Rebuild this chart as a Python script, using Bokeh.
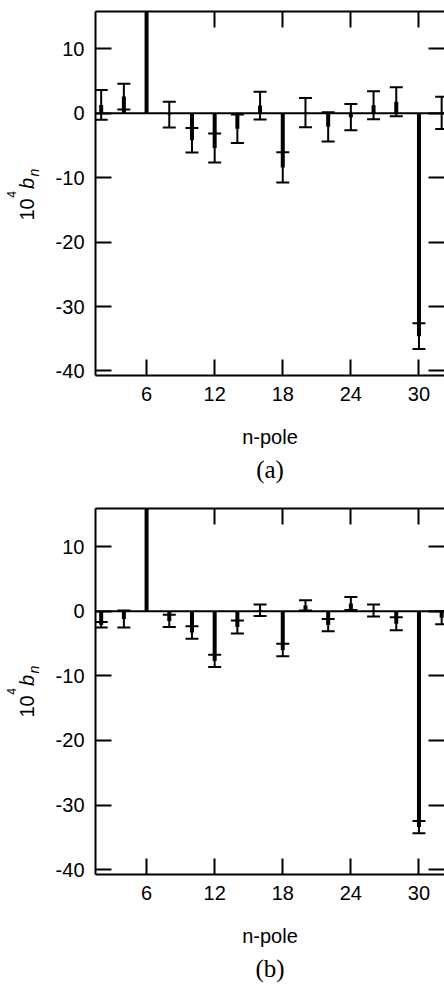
import math
from bokeh.plotting import figure
from bokeh.models import (ColumnDataSource, Whisker, TeeHead, LinearAxis, FixedTicker,
                          Title, Label, Span, Range1d)
from bokeh.layouts import column, row
from bokeh.embed import file_html
from bokeh.resources import INLINE

# ---------------- data ----------------
n_pole = [2, 4, 6, 8, 10, 12, 14, 16, 18, 20, 22, 24, 26, 28, 30, 32]

# panel (a)
b_a   = [1.3, 2.6, 30.0, -0.2, -4.2, -5.4, -2.4, 1.2, -8.4, 0.1, -2.1, -0.6, 1.25, 1.8, -34.6, 0.05]
err_a = [2.3, 2.0, 2.0, 2.0, 1.9, 2.25, 2.2, 2.15, 2.35, 2.27, 2.27, 2.05, 2.17, 2.25, 2.0, 2.5]

# panel (b)
b_b   = [-2.1, -1.2, 30.0, -1.5, -3.3, -7.7, -2.45, 0.15, -6.0, 0.9, -2.15, 1.2, 0.1, -1.95, -33.4, -1.0]
err_b = [0.42, 1.3, 1.0, 0.95, 0.96, 0.95, 1.0, 0.88, 0.95, 0.8, 0.96, 1.0, 0.93, 1.0, 0.95, 1.0]

x_ticks = [6, 12, 18, 24, 30]
y_ticks = [-40, -30, -20, -10, 0, 10]
y_tick_labels = ["-40", "-30", "-20", "-10", "0", "10"]
x_label = "n-pole"
captions = ["(a)", "(b)"]

SANS = "Liberation Sans"
SERIF = "Liberation Serif"

LAB_W = 45          # width of the strip that holds the rotated y label
MAIN_W = 444 - LAB_W
TOP = 11


def style_axis(ax, ticks, labels=None, show=True):
    ax.ticker = FixedTicker(ticks=ticks)
    ax.minor_tick_line_color = None
    ax.major_tick_in = 16
    ax.major_tick_out = 0
    ax.major_tick_line_width = 2
    ax.major_tick_line_color = "black"
    ax.axis_line_width = 2
    ax.axis_line_color = "black"
    if show:
        ax.major_label_text_font = SANS
        ax.major_label_text_font_size = "20px"
        ax.major_label_text_color = "black"
        ax.major_label_standoff = 11
        if labels is not None:
            ax.major_label_overrides = {t: s for t, s in zip(ticks, labels)}
    else:
        ax.major_label_text_font_size = "0px"
        ax.major_label_standoff = 0
        ax.major_label_overrides = {t: "" for t in ticks}


def make_label_strip(height, bottom_border):
    frame_h = height - TOP - bottom_border
    # y data == pixel row measured from the top of the panel
    s = figure(width=LAB_W, height=height, output_backend="svg", toolbar_location=None,
               x_range=Range1d(0, LAB_W), y_range=Range1d(TOP + frame_h, TOP),
               x_axis_location=None, y_axis_location=None,
               min_border_left=0, min_border_right=0, min_border_top=TOP,
               min_border_bottom=bottom_border)
    s.outline_line_color = None
    s.grid.visible = False
    s.background_fill_color = "white"
    s.border_fill_color = "white"
    parts = [  # text, centre x, centre y (from panel top), size, style
        ("10", 26, 209, "20px", "normal"),
        ("4", 11, 194, "12px", "normal"),
        ("b", 26, 183, "20px", "italic"),
        ("n", 33, 172, "14px", "italic"),
    ]
    for txt, x, y, size, style in parts:
        s.add_layout(Label(x=x, y=y, text=txt, angle=math.pi / 2,
                           text_font=SANS, text_font_size=size, text_font_style=style,
                           text_baseline="middle", text_align="center", text_color="black"))
    return s


def make_panel(b, err, caption, height, y_start, y_end, bottom_border):
    lo = [v - e for v, e in zip(b, err)]
    hi = [v + e for v, e in zip(b, err)]
    src = ColumnDataSource(dict(n=n_pole, b=b, lo=lo, hi=hi))

    p = figure(width=MAIN_W, height=height, output_backend="svg", toolbar_location=None,
               x_range=Range1d(1.5, 32.25), y_range=Range1d(y_start, y_end),
               min_border_left=95 - LAB_W, min_border_right=0, min_border_top=TOP,
               min_border_bottom=bottom_border)
    p.outline_line_color = None
    p.grid.visible = False
    p.background_fill_color = "white"
    p.border_fill_color = "white"

    style_axis(p.xaxis[0], x_ticks)
    style_axis(p.yaxis[0], y_ticks, y_tick_labels)
    p.xaxis[0].axis_label = x_label
    p.xaxis[0].axis_label_text_font = SANS
    p.xaxis[0].axis_label_text_font_size = "20px"
    p.xaxis[0].axis_label_text_font_style = "normal"
    p.xaxis[0].axis_label_text_color = "black"
    p.xaxis[0].axis_label_standoff = 22

    top = LinearAxis()
    style_axis(top, x_ticks, show=False)
    p.add_layout(top, "above")
    right = LinearAxis()
    style_axis(right, y_ticks, show=False)
    right.axis_line_color = None
    p.add_layout(right, "right")

    p.add_layout(Span(location=0, dimension="width", line_color="black", line_width=2))

    p.add_layout(Whisker(source=src, base="n", lower="lo", upper="hi", dimension="height",
                         line_color="black", line_width=2,
                         upper_head=TeeHead(size=13, line_width=2, line_color="black"),
                         lower_head=TeeHead(size=13, line_width=2, line_color="black")))
    p.segment(x0="n", y0=0, x1="n", y1="b", source=src, line_color="black", line_width=4)

    p.add_layout(Title(text=caption, align="center", text_font=SERIF, text_font_size="25px",
                       text_font_style="normal", text_color="black", standoff=6, offset=0), "below")
    return row(make_label_strip(height, bottom_border), p, spacing=0)


pa = make_panel(b_a, err_a, captions[0], 497, -40.7, 15.8, 122)
pb = make_panel(b_b, err_b, captions[1], 487, -40.75, 15.9, 110)

layout = column(pa, pb, spacing=0)
open("out.html", "w").write(file_html(layout, INLINE))
